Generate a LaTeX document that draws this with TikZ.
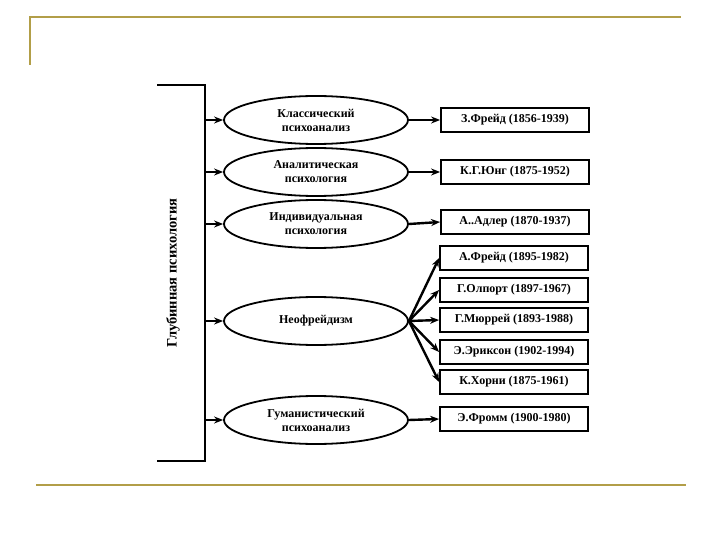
\documentclass[tikz,border=0pt]{standalone}
\usepackage{fontspec}
\setmainfont{Liberation Serif}
\usetikzlibrary{arrows.meta,shapes.geometric}

\definecolor{framegold}{RGB}{178,158,72}

\begin{document}
\begin{tikzpicture}[x=1pt,y=-1pt]
\tikzset{
  school/.style={ellipse,draw,line width=1.8pt,minimum width=184pt,minimum height=48pt,inner sep=0pt,align=center,font=\fontsize{12}{14}\selectfont\bfseries},
  person/.style={rectangle,draw,line width=1.8pt,minimum width=148pt,minimum height=24pt,inner sep=0pt,font=\fontsize{12}{14}\selectfont\bfseries},
  link/.style={-{Stealth[length=9pt,width=7pt]},line width=2.4pt},
  frameline/.style={draw=framegold,line width=2pt}
}
\useasboundingbox (0,0) rectangle (720,540);
% slide frame
\draw[frameline] (30,65) -- (30,17) -- (681,17);
\draw[frameline] (36,485) -- (686,485);
% bracket
\coordinate (k_top) at (157,85);
\coordinate (k_bot) at (157,461);
\draw[line width=2pt] (k_top) -- (205,85) -- (205,461) -- (k_bot);
\node[rotate=90,font=\fontsize{14.5}{16}\selectfont\bfseries] (n_deep) at (173,273) {Глубинная психология};
% schools
\node[school] (e_klass) at (316,120) {Классический\\психоанализ};
\node[school] (e_analit) at (316,172) {Аналитическая\\психология};
\node[school] (e_indiv) at (316,224) {Индивидуальная\\психология};
\node[school] (e_neo) at (316,321) {Неофрейдизм};
\node[school] (e_human) at (316,420) {Гуманистический\\психоанализ};
% persons
\node[person] (b_zfreud) at (515,120) {З.Фрейд (1856-1939)};
\node[person] (b_jung) at (515,172) {К.Г.Юнг (1875-1952)};
\node[person] (b_adler) at (515,222) {А..Адлер (1870-1937)};
\node[person] (b_afreud) at (514,258) {А.Фрейд (1895-1982)};
\node[person] (b_allport) at (514,290) {Г.Олпорт (1897-1967)};
\node[person] (b_murray) at (514,320) {Г.Мюррей (1893-1988)};
\node[person] (b_erikson) at (514,352) {Э.Эриксон (1902-1994)};
\node[person] (b_horney) at (514,382) {К.Хорни (1875-1961)};
\node[person] (b_fromm) at (514,419) {Э.Фромм (1900-1980)};
% bracket to schools
\coordinate (c_klass) at (205,120);
\coordinate (c_analit) at (205,172);
\coordinate (c_indiv) at (205,224);
\coordinate (c_neo) at (205,321);
\coordinate (c_human) at (205,420);
\draw[link] (c_klass) -- (e_klass);
\draw[link] (c_analit) -- (e_analit);
\draw[link] (c_indiv) -- (e_indiv);
\draw[link] (c_neo) -- (e_neo);
\draw[link] (c_human) -- (e_human);
% schools to persons
\draw[link] (e_klass) -- (b_zfreud);
\draw[link] (e_analit) -- (b_jung);
\draw[link] (e_indiv.east) -- (b_adler.west);
\draw[link] (e_neo.east) -- (b_afreud.west);
\draw[link] (e_neo.east) -- (b_allport.west);
\draw[link] (e_neo.east) -- (b_murray.west);
\draw[link] (e_neo.east) -- (b_erikson.west);
\draw[link] (e_neo.east) -- (b_horney.west);
\draw[link] (e_human.east) -- (b_fromm.west);
\end{tikzpicture}
\end{document}
